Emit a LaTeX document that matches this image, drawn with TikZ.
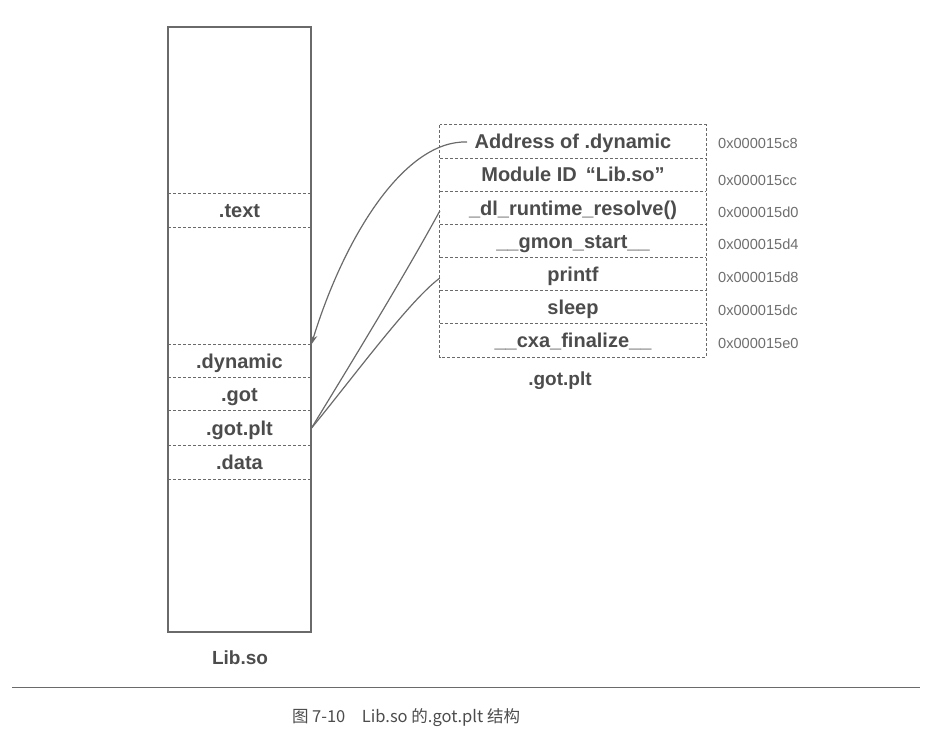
\documentclass[tikz,border=0pt]{standalone}
\usepackage{fontspec}
\setmainfont{Liberation Sans}
\newfontfamily\cjk{Noto Sans CJK SC}
\usetikzlibrary{arrows.meta}
\definecolor{ink}{HTML}{4C4C4C}
\definecolor{lightink}{HTML}{6E6E6E}
\definecolor{rule}{HTML}{6A6A6A}
\begin{document}
\begin{tikzpicture}[x=1pt,y=-1pt,
  sect/.style={minimum width=143pt,minimum height=33pt,inner sep=0pt,
    text height=14.5pt,text depth=0pt,
    font=\fontsize{20}{22}\selectfont\bfseries,text=ink},
  row/.style={minimum width=266pt,minimum height=33.14pt,inner sep=0pt,
    text height=14.5pt,text depth=0pt,
    font=\fontsize{20}{22}\selectfont\bfseries,text=ink},
  addr/.style={anchor=west,inner sep=0pt,font=\fontsize{14.6}{16}\selectfont,text=lightink},
  divider/.style={draw=rule,dashed,dash pattern=on 3pt off 2pt,line width=0.7pt},
  frame/.style={draw=rule,line width=1.1pt},
  link/.style={draw=rule,line width=1.2pt}]
\useasboundingbox (0,0) rectangle (952,743);

% Lib.so image
\node[frame,minimum width=143pt,minimum height=605pt,inner sep=0pt] (lib) at (239.5,329.5) {};
\node[sect] (textsec) at (239.5,210.5) {.text};
\node[sect] (dyn) at (239.5,361.5) {.dynamic};
\node[sect] (got) at (239.5,394.5) {.got};
\node[sect,minimum height=35pt] (gotplt) at (239.5,428.5) {.got.plt};
\node[sect] (data) at (239.5,462.5) {.data};
\foreach \s in {textsec,dyn,got,gotplt,data}
  \draw[divider] (\s.north west) -- (\s.north east);
\draw[divider] (textsec.south west) -- (textsec.south east);
\draw[divider] (data.south west) -- (data.south east);
\node[font=\fontsize{19}{21}\selectfont\bfseries,text=ink] (libname) at (240,658) {Lib.so};

% .got.plt table
\node[row] (r1) at (573,141.6) {Address of .dynamic};
\node[row] (r2) at (573,174.7) {Module ID \,“Lib.so”};
\node[row] (r3) at (573,207.9) {\_dl\_runtime\_resolve()};
\node[row] (r4) at (573,241.0) {\_\_gmon\_start\_\_};
\node[row] (r5) at (573,274.1) {printf};
\node[row] (r6) at (573,307.3) {sleep};
\node[row] (r7) at (573,340.4) {\_\_cxa\_finalize\_\_};
\draw[divider] (r1.north west) rectangle (r7.south east);
\foreach \r in {r2,r3,r4,r5,r6,r7}
  \draw[divider] (\r.north west) -- (\r.north east);
\node[font=\fontsize{19}{21}\selectfont\bfseries,text=ink] (tblname) at (560,381) {.got.plt};

% addresses of the entries
\node[addr] (a1) at (718,143) {0x000015c8};
\node[addr] (a2) at (718,180) {0x000015cc};
\node[addr] (a3) at (718,212) {0x000015d0};
\node[addr] (a4) at (718,244) {0x000015d4};
\node[addr] (a5) at (718,277) {0x000015d8};
\node[addr] (a6) at (718,310) {0x000015dc};
\node[addr] (a7) at (718,343) {0x000015e0};

% references back into Lib.so
\coordinate (dynref) at (467,142);
\draw[link,-{Stealth[length=10pt,width=6.5pt]}] (dynref) .. controls (405,140) and (345,235) .. (dyn.north east);
\draw[link] (gotplt.east) .. controls (350,365) and (405,275) .. ([yshift=-3pt]r3.west);
\draw[link] (gotplt.east) .. controls (355,375) and (410,300) .. ([yshift=-4pt]r5.west);

% caption
\draw[draw=rule,line width=1pt] (12,687) -- (920,687);
\node[font=\cjk\fontsize{16.5}{18}\selectfont,text=ink] (caption) at (406,718) {图 7-10\quad Lib.so 的.got.plt 结构};
\end{tikzpicture}
\end{document}
